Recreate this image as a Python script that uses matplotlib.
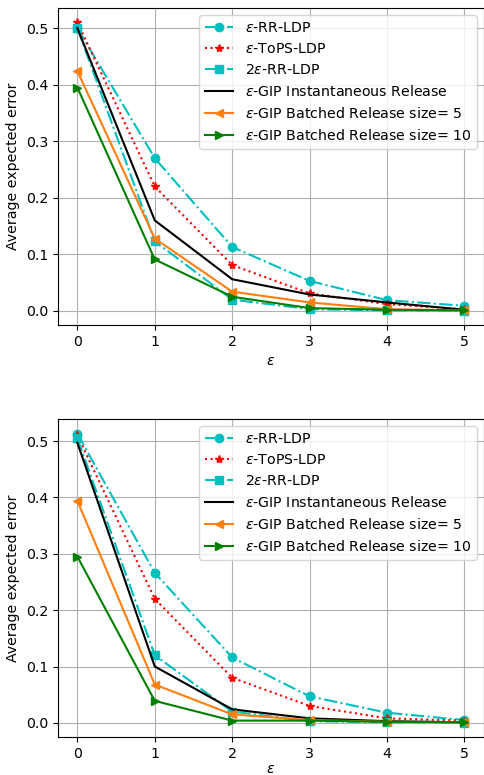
import numpy as np
import matplotlib
matplotlib.use("Agg")
import matplotlib.pyplot as plt

plt.rcParams['font.size'] = 10.2

eps = [0, 1, 2, 3, 4, 5]

labels = [r'$\epsilon$-RR-LDP', r'$\epsilon$-ToPS-LDP', r'2$\epsilon$-RR-LDP',
          r'$\epsilon$-GIP Instantaneous Release',
          r'$\epsilon$-GIP Batched Release size= 5',
          r'$\epsilon$-GIP Batched Release size= 10']

# top panel
rr_top = [0.500, 0.270, 0.113, 0.053, 0.019, 0.009]
tops_top = [0.510, 0.220, 0.081, 0.031, 0.012, 0.003]
rr2_top = [0.500, 0.123, 0.020, 0.003, 0.001, 0.0005]
inst_top = [0.500, 0.160, 0.056, 0.029, 0.015, 0.002]
b5_top = [0.424, 0.128, 0.034, 0.015, 0.003, 0.001]
b10_top = [0.395, 0.091, 0.025, 0.005, 0.002, 0.001]

# bottom panel
rr_bot = [0.513, 0.266, 0.116, 0.047, 0.018, 0.005]
tops_bot = [0.510, 0.220, 0.080, 0.030, 0.008, 0.004]
rr2_bot = [0.505, 0.120, 0.020, 0.003, 0.001, 0.0005]
inst_bot = [0.497, 0.100, 0.024, 0.008, 0.003, 0.001]
b5_bot = [0.394, 0.068, 0.015, 0.005, 0.002, 0.001]
b10_bot = [0.295, 0.039, 0.004, 0.004, 0.002, 0.001]


def draw(ax, series, pad):
    rr, tops, rr2, inst, b5, b10 = series
    ax.plot(eps, rr, 'c-.o', label=labels[0])
    ax.plot(eps, tops, 'r:*', label=labels[1])
    ax.plot(eps, rr2, 'c-.s', label=labels[2])
    ax.plot(eps, inst, 'k-', label=labels[3])
    ax.plot(eps, b5, '-<', color='C1', label=labels[4])
    ax.plot(eps, b10, 'g->', label=labels[5])
    ax.grid(True)
    ax.set_xlabel(r'$\epsilon$', labelpad=pad)
    ax.set_ylabel('Average expected error')
    ax.legend(loc='upper right')


fig = plt.figure(figsize=(4.85, 7.75), dpi=100)
ax1 = fig.add_axes([0.1196, 0.5806, 0.878, 0.409])
ax2 = fig.add_axes([0.1196, 0.049, 0.878, 0.410])
draw(ax1, (rr_top, tops_top, rr2_top, inst_top, b5_top, b10_top), 4.0)
draw(ax2, (rr_bot, tops_bot, rr2_bot, inst_bot, b5_bot, b10_bot), 1.0)

fig.savefig('out.png', dpi=100)
